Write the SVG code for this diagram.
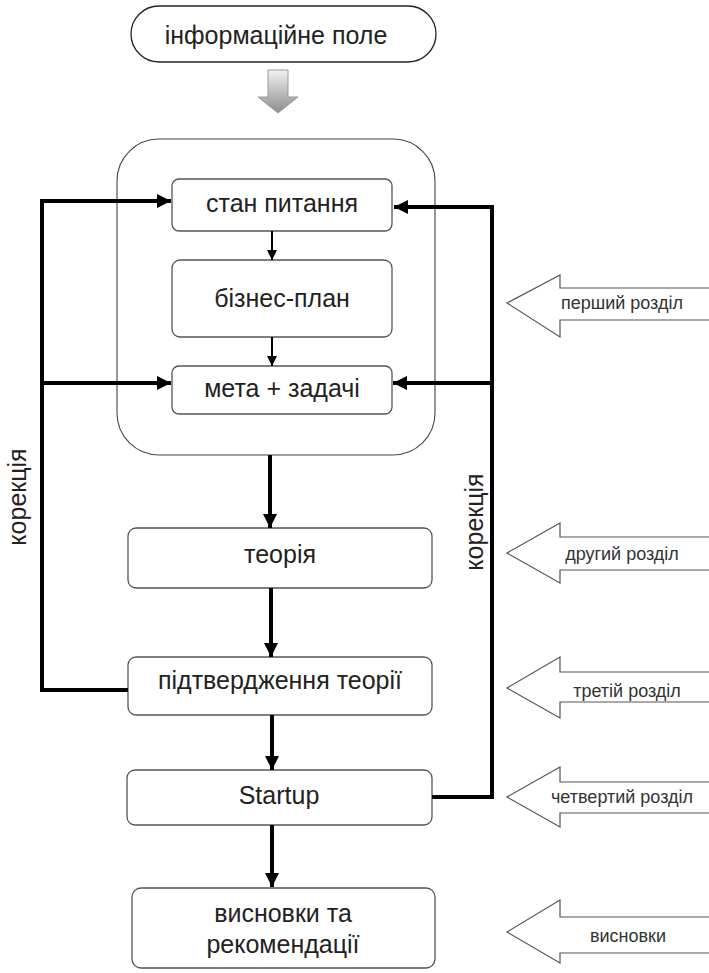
<svg xmlns="http://www.w3.org/2000/svg" width="709" height="973" viewBox="0 0 709 973">
<defs>
<style>
.box{fill:#fff;stroke:#555;stroke-width:1.3}
.t{font-family:"Liberation Sans",Arial,sans-serif;font-size:25px;fill:#222;text-anchor:middle}
.lbl{font-family:"Liberation Sans",Arial,sans-serif;font-size:18px;fill:#333;text-anchor:middle}
.heavy{fill:none;stroke:#000;stroke-width:4}
.thin{fill:none;stroke:#000;stroke-width:2}
.barrow{fill:#fff;stroke:#555;stroke-width:1.2}
</style>
<marker id="ah" viewBox="0 0 10 10" refX="10" refY="5" markerWidth="3.5" markerHeight="3.8" orient="auto" markerUnits="strokeWidth">
<path d="M0,0 L10,5 L0,10 Z" fill="#000"/>
</marker>
<marker id="ahs" viewBox="0 0 10 10" refX="10" refY="5" markerWidth="5" markerHeight="5.5" orient="auto" markerUnits="strokeWidth">
<path d="M0,0 L10,5 L0,10 Z" fill="#000"/>
</marker>
<linearGradient id="gg" x1="0" y1="0" x2="0" y2="1">
<stop offset="0" stop-color="#f2f2f2"/>
<stop offset="1" stop-color="#8c8c8c"/>
</linearGradient>
</defs>
<rect width="709" height="973" fill="#fff"/>

<g id="info">
<rect x="131" y="6" width="305" height="56" rx="28" fill="#fff" stroke="#222" stroke-width="1.3"/>
<text class="t" x="276" y="44">інформаційне поле</text>
</g>

<g id="gray-arrow">
<path d="M268,70 L288,70 L288,97 L298,97 L278,113 L258,97 L268,97 Z" fill="url(#gg)" stroke="#999" stroke-width="1"/>
</g>

<g id="container">
<rect x="117" y="139" width="318" height="316" rx="42" fill="#fff" stroke="#444" stroke-width="1.1"/>
</g>

<g id="stan">
<rect class="box" x="172" y="179" width="220" height="52" rx="7"/>
<text class="t" x="282" y="212">стан питання</text>
</g>
<g id="biznes">
<rect class="box" x="172" y="260" width="220" height="77" rx="8"/>
<text class="t" x="282" y="307">бізнес-план</text>
</g>
<g id="meta">
<rect class="box" x="172" y="366" width="220" height="48" rx="7"/>
<text class="t" x="282" y="397">мета + задачі</text>
</g>
<g id="teoria">
<rect class="box" x="128" y="528" width="304" height="60" rx="8"/>
<text class="t" x="280" y="563">теорія</text>
</g>
<g id="pidtv">
<rect class="box" x="128" y="657" width="304" height="58" rx="8"/>
<text class="t" x="280" y="689">підтвердження теорії</text>
</g>
<g id="startup">
<rect class="box" x="127" y="770" width="305" height="55" rx="8"/>
<text class="t" x="279" y="804">Startup</text>
</g>
<g id="vysnovky">
<rect class="box" x="132" y="888" width="303" height="80" rx="9"/>
<text class="t" x="283" y="922">висновки та</text>
<text class="t" x="283" y="953">рекомендації</text>
</g>

<g id="connectors">
<path class="thin" d="M272,231 L272,260" marker-end="url(#ahs)"/>
<path class="thin" d="M272,337 L272,366" marker-end="url(#ahs)"/>
<path class="heavy" d="M270,455 L270,528" marker-end="url(#ah)"/>
<path class="heavy" d="M271,588 L271,657" marker-end="url(#ah)"/>
<path class="heavy" d="M272,715 L272,770" marker-end="url(#ah)"/>
<path class="heavy" d="M272,825 L272,887" marker-end="url(#ah)"/>
<path class="heavy" d="M128,690 L42,690 L42,201 L171,201" marker-end="url(#ah)"/>
<path class="heavy" d="M42,383 L171,383" marker-end="url(#ah)"/>
<path class="heavy" d="M432,797 L492,797 L492,207 L394,207" marker-end="url(#ah)"/>
<path class="heavy" d="M492,383 L393,383" marker-end="url(#ah)"/>
<text class="t" transform="translate(26,497) rotate(-90)" x="0" y="0">корекція</text>
<text class="t" transform="translate(483,522) rotate(-90)" x="0" y="0">корекція</text>
</g>

<g id="ch1">
<path class="barrow" d="M712,288 L560,288 L560,275 L507,303 L560,337 L560,320 L712,320"/>
<text class="lbl" x="622" y="309">перший розділ</text>
</g>
<g id="ch2">
<path class="barrow" d="M712,537 L560,537 L560,523 L507,553 L560,583 L560,570 L712,570"/>
<text class="lbl" x="622" y="560">другий розділ</text>
</g>
<g id="ch3">
<path class="barrow" d="M712,672 L560,672 L560,657 L507,688 L560,718 L560,702 L712,702"/>
<text class="lbl" x="627" y="697">третій розділ</text>
</g>
<g id="ch4">
<path class="barrow" d="M712,782 L560,782 L560,767 L507,797 L560,827 L560,813 L712,813"/>
<text class="lbl" x="622" y="803">четвертий розділ</text>
</g>
<g id="ch5">
<path class="barrow" d="M712,917 L560,917 L560,900 L507,932 L560,963 L560,953 L712,953"/>
<text class="lbl" x="628" y="942">висновки</text>
</g>
</svg>
